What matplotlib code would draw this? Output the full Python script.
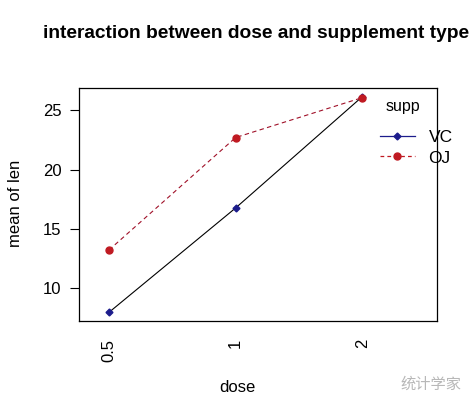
import matplotlib.pyplot as plt
from matplotlib.lines import Line2D

plt.rcParams['font.family'] = ['Liberation Sans', 'DejaVu Sans']

doses = ["0.5", "1", "2"]
vc_means = [7.98, 16.77, 26.14]
oj_means = [13.23, 22.70, 26.06]
yticks = [10, 15, 20, 25]

fig = plt.figure(figsize=(4.74, 3.99), dpi=100)
# axes box in pixels: left 79, right 437, top 88, bottom 321
W, H = 474, 399
ax = fig.add_axes([79 / W, 1 - 321 / H, (437 - 79) / W, (321 - 88) / H])

xpos = list(range(1, len(doses) + 1))
ax.plot(xpos, vc_means, color="black", lw=0.8, ls="-")
ax.plot(xpos, vc_means, ls="none", marker="D", ms=3.5, color="#1c1c8c")
ax.plot(xpos, oj_means, color="#a01028", lw=0.8, ls=(0, (4, 3)))
ax.plot(xpos, oj_means, ls="none", marker="o", ms=5, color="#c01a22")

ax.set_xlim(0.763, 3.59)
ax.set_ylim(7.25, 26.87)
ax.set_xticks(xpos)
ax.set_xticklabels(doses, rotation=90, fontsize=12)
ax.tick_params(axis="x", length=0, pad=13)
ax.set_yticks(yticks)
ax.set_yticklabels([str(v) for v in yticks], fontsize=12)
ax.tick_params(axis="y", length=6.5, width=0.8, pad=6)
for s in ax.spines.values():
    s.set_linewidth(0.9)

fig.text(256 / W, 1 - 33 / H, "interaction between dose and supplement type",
         ha="center", va="center", fontsize=13.8, fontweight="bold")
fig.text(237 / W, 1 - 388 / H, "dose", ha="center", va="center", fontsize=12)
fig.text(15 / W, 1 - 203 / H, "mean of len", ha="center", va="center",
         rotation=90, fontsize=12)

# legend
fig.text(403 / W, 1 - 106 / H, "supp", ha="center", va="center", fontsize=11.5)
handles = [
    Line2D([], [], color="#1c1c8c", lw=0.9, marker="D", ms=3.5),
    Line2D([], [], color="#c01a22", lw=0.9, ls=(0, (3, 2.5)), marker="o", ms=5),
]
fig.legend(handles, ["VC", "OJ"], frameon=False,
           loc="upper left", bbox_to_anchor=(380 / W, 1 - 130 / H),
           borderpad=0, borderaxespad=0,
           fontsize=12.5, handlelength=2.0,
           handletextpad=0.8, labelspacing=0.3)

fig.text(400 / W, 1 - 384 / H, "统计学家", ha="left", va="center",
         fontsize=11, color="#b8b8b8",
         family=["Noto Sans CJK SC", "DejaVu Sans"])

fig.savefig("out.png", dpi=100)
